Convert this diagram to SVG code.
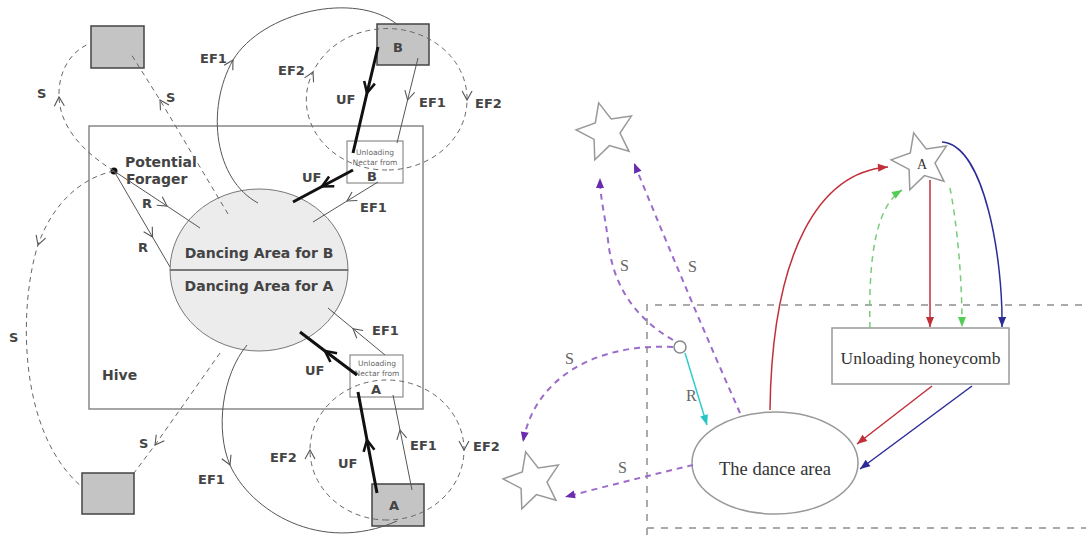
<svg xmlns="http://www.w3.org/2000/svg" xmlns:xlink="http://www.w3.org/1999/xlink" width="1086" height="535" viewBox="0 0 1086 535">
  <style>
    .lbl { font-family: "DejaVu Sans", "Liberation Sans", sans-serif; font-weight: bold; font-size: 13px; fill: #444; }
    .big { font-size: 14px; }
    .tiny { font-family: "DejaVu Sans", "Liberation Sans", sans-serif; font-size: 7.5px; fill: #666; }
    .thin { fill: none; stroke: #555; stroke-width: 1; }
    .dash { fill: none; stroke: #666; stroke-width: 1; stroke-dasharray: 5 4; }
    .thick { fill: none; stroke: #111; stroke-width: 3; }
    .mid { marker-mid: url(#chev); }
    .midB { marker-mid: url(#chevB); }
    .site { fill: #c4c4c4; stroke: #444; stroke-width: 1.5; }
    .ubox { fill: none; stroke: #777; stroke-width: 1; }
    .serif { font-family: "Liberation Serif", "Times New Roman", serif; fill: #333; }
    .slab { font-family: "Liberation Serif", "Times New Roman", serif; font-size: 16px; fill: #666; }
    .star { fill: #fff; stroke: #999; stroke-width: 1.5; stroke-linejoin: miter; }
    .pdash { fill: none; stroke: #9a6ccc; stroke-width: 2; stroke-dasharray: 6 5; marker-end: url(#triP); }
  </style>
  <defs>
    <marker id="chev" markerUnits="userSpaceOnUse" viewBox="-12 -7 14 14" markerWidth="14" markerHeight="14" refX="0" refY="0" orient="auto" overflow="visible">
      <path d="M-9,-5 L0,0 L-9,5" fill="none" stroke="#555" stroke-width="1.1"/>
    </marker>
    <marker id="chevB" markerUnits="userSpaceOnUse" viewBox="-14 -8 16 16" markerWidth="16" markerHeight="16" refX="0" refY="0" orient="auto" overflow="visible">
      <path d="M-11,-5.5 L0,0 L-11,5.5" fill="none" stroke="#111" stroke-width="2.6"/>
    </marker>
    <marker id="triR" markerUnits="userSpaceOnUse" viewBox="-11 -5 13 10" markerWidth="13" markerHeight="10" refX="0" refY="0" orient="auto" overflow="visible">
      <path d="M-10,-4 L0,0 L-10,4 Z" fill="#c0303a"/>
    </marker>
    <marker id="triB" markerUnits="userSpaceOnUse" viewBox="-11 -5 13 10" markerWidth="13" markerHeight="10" refX="0" refY="0" orient="auto" overflow="visible">
      <path d="M-10,-4 L0,0 L-10,4 Z" fill="#2c2c99"/>
    </marker>
    <marker id="triG" markerUnits="userSpaceOnUse" viewBox="-11 -5 13 10" markerWidth="13" markerHeight="10" refX="0" refY="0" orient="auto" overflow="visible">
      <path d="M-10,-4 L0,0 L-10,4 Z" fill="#55cc55"/>
    </marker>
    <marker id="triP" markerUnits="userSpaceOnUse" viewBox="-11 -5 13 10" markerWidth="13" markerHeight="10" refX="0" refY="0" orient="auto" overflow="visible">
      <path d="M-10,-4 L0,0 L-10,4 Z" fill="#6a2cae"/>
    </marker>
    <marker id="triC" markerUnits="userSpaceOnUse" viewBox="-11 -5 13 10" markerWidth="13" markerHeight="10" refX="0" refY="0" orient="auto" overflow="visible">
      <path d="M-10,-4 L0,0 L-10,4 Z" fill="#22c4c4"/>
    </marker>
    <polygon id="star" points="-7.3,-29.1 5.2,-13 25.4,-15.9 14,1 23,19.3 3.4,13.6 -11.2,27.8 -11.9,7.4 -29.9,-2.1 -10.7,-9"/>
  </defs>

  <rect width="1086" height="535" fill="#fff"/>

  <!-- ===== Left: foraging model ===== -->
  <g id="hive">
    <rect x="89" y="126" width="334" height="283" fill="none" stroke="#888" stroke-width="1.5"/>
    <text class="lbl big" x="102" y="380">Hive</text>
  </g>

  <g id="dancing-area">
    <ellipse cx="259" cy="270" rx="89" ry="81" fill="#ececec" stroke="#777" stroke-width="1"/>
    <line x1="170" y1="270" x2="348" y2="270" stroke="#555" stroke-width="1.5"/>
  </g>

  <g id="site-nw"><rect class="site" x="91" y="26" width="53" height="42"/></g>
  <g id="site-b"><rect class="site" x="377" y="24" width="52" height="41"/><text class="lbl" x="398" y="52" text-anchor="middle">B</text></g>
  <g id="site-sw"><rect class="site" x="82" y="473" width="52" height="41"/></g>
  <g id="site-a"><rect class="site" x="372" y="484" width="52" height="42"/><text class="lbl" x="394" y="510" text-anchor="middle">A</text></g>

  <g id="unload-b">
    <rect class="ubox" x="347" y="141" width="56" height="42"/>
    <text class="tiny" x="375" y="155" text-anchor="middle">Unloading</text>
    <text class="tiny" x="375" y="165" text-anchor="middle">Nectar from</text>
    <text class="lbl" x="372" y="181" text-anchor="middle" font-size="11">B</text>
  </g>
  <g id="unload-a">
    <rect class="ubox" x="350" y="355" width="53" height="42"/>
    <text class="tiny" x="377" y="366" text-anchor="middle">Unloading</text>
    <text class="tiny" x="377" y="376" text-anchor="middle">Nectar from</text>
    <text class="lbl" x="376" y="394" text-anchor="middle" font-size="11">A</text>
  </g>

  <g id="forager">
    <circle cx="114" cy="171" r="3.5" fill="#111"/>
    <text class="lbl big" x="125" y="167">Potential</text>
    <text class="lbl big" x="126" y="184">Forager</text>
  </g>

  <g id="left-connectors">
    <!-- scouting S -->
    <path class="dash mid" d="M114,171 C80,150 60,125 59,97 C58,70 72,50 91,43"/>
    <path class="dash mid" d="M228,214 L160,100 L131,54"/>
    <path class="dash mid" d="M114,171 C80,178 52,205 38,245 C20,300 15,430 82,487"/>
    <path class="dash mid" d="M220,353 L155,445 L134,473"/>
    <!-- recruitment R -->
    <path class="thin mid" d="M114,171 L167,206 L200,228"/>
    <path class="thin mid" d="M114,171 L152.5,237 L170,267"/>
    <!-- EF1 round trips -->
    <path class="thin mid" d="M258,203 C215,180 205,110 233,60 C262,12 355,-10 398,25"/>
    <path class="thin mid" d="M247,345 C222,375 215,430 230,465 C250,510 320,555 397,521"/>
    <path class="thin mid" d="M418,58 L407.6,100 L397,143"/>
    <path class="thin mid" d="M378,182 L347,201 L313,222"/>
    <path class="thin mid" d="M412,490 L400,430 L393,395"/>
    <path class="thin mid" d="M385,355 L353,328.6 L328,308"/>
    <!-- EF2 loops -->
    <path class="dash mid" d="M387,170 A80,70 0 0 1 313,72 A80,70 0 0 1 467,100 A80,70 0 0 1 387,170"/>
    <path class="dash mid" d="M387,520 A77,70 0 0 1 310,450 A77,70 0 0 1 464,450 A77,70 0 0 1 387,520"/>
    <!-- unloaded foragers UF -->
    <path class="thick midB" d="M378,47 L367,93 L353,153"/>
    <path class="thick midB" d="M353,170 L322,186.5 L293,202"/>
    <path class="thick midB" d="M357,375 L325,351 L300,332"/>
    <path class="thick midB" d="M377,493 L367,440 L358,392"/>
  </g>

  <g id="left-labels">
    <text class="lbl big" x="259" y="258" text-anchor="middle">Dancing Area for B</text>
    <text class="lbl big" x="259" y="291" text-anchor="middle">Dancing Area for A</text>
    <text class="lbl" x="37" y="98">S</text>
    <text class="lbl" x="166" y="102">S</text>
    <text class="lbl" x="9" y="342">S</text>
    <text class="lbl" x="139" y="448">S</text>
    <text class="lbl" x="142" y="208">R</text>
    <text class="lbl" x="138" y="252">R</text>
    <text class="lbl" x="200" y="63">EF1</text>
    <text class="lbl" x="278" y="75">EF2</text>
    <text class="lbl" x="336" y="104">UF</text>
    <text class="lbl" x="419" y="107">EF1</text>
    <text class="lbl" x="475" y="108">EF2</text>
    <text class="lbl" x="302" y="182">UF</text>
    <text class="lbl" x="360" y="212">EF1</text>
    <text class="lbl" x="372" y="335">EF1</text>
    <text class="lbl" x="305" y="375">UF</text>
    <text class="lbl" x="410" y="450">EF1</text>
    <text class="lbl" x="338" y="468">UF</text>
    <text class="lbl" x="270" y="462">EF2</text>
    <text class="lbl" x="473" y="451">EF2</text>
    <text class="lbl" x="198" y="484">EF1</text>
  </g>

  <!-- ===== Right: dance-area model ===== -->
  <g id="hive-outline">
    <path d="M647,535 L647,305 L1086,305 M647,528 L1086,528" fill="none" stroke="#aaa" stroke-width="2" stroke-dasharray="7 7"/>
  </g>

  <g id="unloading-honeycomb">
    <rect x="832" y="328" width="177" height="56" fill="#fff" stroke="#999" stroke-width="1.5"/>
    <text class="serif" x="920.5" y="364" font-size="17.5" text-anchor="middle">Unloading honeycomb</text>
  </g>

  <g id="dance-area">
    <ellipse cx="775" cy="463" rx="83" ry="51" fill="#fff" stroke="#999" stroke-width="1.5"/>
    <text class="serif" x="775" y="475" font-size="18.5" text-anchor="middle">The dance area</text>
  </g>

  <g id="potential-forager">
    <circle cx="680" cy="347" r="6" fill="#fff" stroke="#888" stroke-width="1.5"/>
  </g>

  <g id="source-a" transform="translate(921,162)">
    <use class="star" href="#star"/>
    <text class="serif" x="1" y="7" font-size="14" text-anchor="middle" fill="#444">A</text>
  </g>
  <g id="source-nw" transform="translate(606,132)"><use class="star" href="#star"/></g>
  <g id="source-sw" transform="translate(533,481)"><use class="star" href="#star"/></g>

  <g id="right-connectors">
    <path class="pdash" d="M673,340 C630,315 612,280 608,240 C605,215 600,198 600,178"/>
    <path class="pdash" d="M740,413 Q690,300 634,163"/>
    <path class="pdash" d="M673,347 C600,343 535,375 523,442"/>
    <path class="pdash" d="M693,465 Q630,480 565,497"/>
    <path d="M685,353 L707,425" fill="none" stroke="#33cccc" stroke-width="1.5" marker-end="url(#triC)"/>
    <path d="M770,410 C772,250 820,172 888,167" fill="none" stroke="#c0303a" stroke-width="1.5" marker-end="url(#triR)"/>
    <path d="M930,180 L930,327" fill="none" stroke="#c0303a" stroke-width="1.5" marker-end="url(#triR)"/>
    <path d="M870,328 C868,250 878,205 902,190" fill="none" stroke="#77cc77" stroke-width="1.5" stroke-dasharray="6 5" marker-end="url(#triG)"/>
    <path d="M950,188 C958,230 962,280 962,327" fill="none" stroke="#77cc77" stroke-width="1.5" stroke-dasharray="6 5" marker-end="url(#triG)"/>
    <path d="M942,142 C985,145 1003,260 1002,327" fill="none" stroke="#2c2c99" stroke-width="1.5" marker-end="url(#triB)"/>
    <path d="M932,386 L857,444" fill="none" stroke="#c0303a" stroke-width="1.5" marker-end="url(#triR)"/>
    <path d="M972,386 L860,469" fill="none" stroke="#2c2c99" stroke-width="1.5" marker-end="url(#triB)"/>
  </g>

  <g id="right-labels">
    <text class="slab" x="620" y="271">S</text>
    <text class="slab" x="688" y="272">S</text>
    <text class="slab" x="565" y="364">S</text>
    <text class="slab" x="618" y="473">S</text>
    <text class="slab" x="686" y="401">R</text>
  </g>
</svg>
